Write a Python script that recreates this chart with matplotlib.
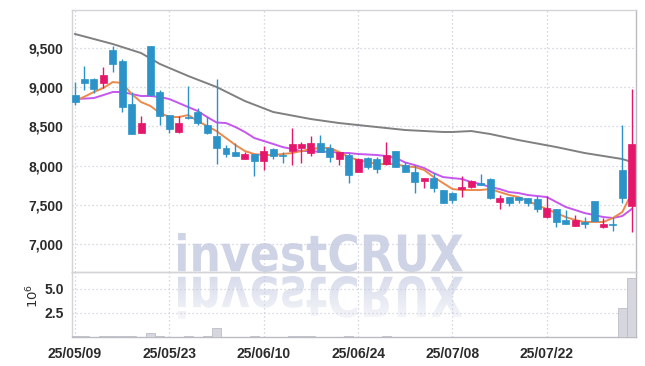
import numpy as np
import matplotlib
matplotlib.use("Agg")
import matplotlib.pyplot as plt
from matplotlib.textpath import TextPath
from matplotlib.font_manager import FontProperties
from matplotlib.patches import PathPatch
from matplotlib.transforms import Affine2D

# ---------------- data ----------------
opens = [8900, 9100, 9105, 9054, 9474, 9334, 8786, 8416, 9525, 8939,
         8645, 8429, 8620, 8684, 8518, 8378, 8225, 8174, 8084, 8148,
         8058, 8212, 8130, 8186, 8225, 8161, 8288, 8225, 8084, 8135,
         7918, 8097, 8084, 8020, 8186, 8007, 7918, 7803, 7841, 7689,
         7650, 7701, 7727, 7778, 7829, 7536, 7599, 7599, 7587, 7574,
         7344, 7446, 7306, 7230, 7281, 7548, 7217, 7255, 7944, 7485]
highs = [9066, 9270, 9117, 9258, 9525, 9360, 8939, 8633, 9525, 8964,
         8645, 8633, 9015, 8735, 8620, 9105, 8263, 8288, 8174, 8148,
         8250, 8225, 8174, 8480, 8301, 8378, 8390, 8276, 8174, 8161,
         8097, 8110, 8110, 8301, 8186, 8046, 8007, 7841, 7905, 7689,
         7663, 7867, 7816, 7893, 7841, 7625, 7599, 7599, 7587, 7612,
         7612, 7446, 7434, 7370, 7344, 7548, 7332, 7344, 8518, 8977]
lows = [8773, 8965, 8926, 8990, 9194, 8684, 8403, 8416, 8890, 8518,
        8416, 8416, 8600, 8518, 8403, 8020, 8110, 8122, 8084, 7867,
        7944, 8084, 8033, 8007, 8033, 8122, 8174, 8046, 8007, 7778,
        7918, 7956, 7905, 8007, 7982, 7918, 7650, 7714, 7663, 7523,
        7523, 7599, 7714, 7752, 7574, 7446, 7485, 7523, 7485, 7408,
        7332, 7217, 7255, 7230, 7204, 7293, 7204, 7166, 7523, 7153]
closes = [8811, 9050, 8977, 9156, 9296, 8747, 8403, 8543, 8900, 8633,
          8467, 8543, 8605, 8543, 8416, 8225, 8148, 8122, 8148, 8058,
          8186, 8122, 8122, 8276, 8276, 8288, 8174, 8110, 8174, 7880,
          8084, 7982, 7956, 8135, 7982, 7918, 7790, 7841, 7714, 7523,
          7561, 7727, 7803, 7752, 7587, 7587, 7523, 7561, 7523, 7446,
          7459, 7281, 7255, 7306, 7255, 7293, 7255, 7242, 7587, 8276]
ma_short = [8824, 8880, 8939, 8990, 9066, 9054, 8913, 8811, 8760, 8671,
            8620, 8620, 8645, 8569, 8505, 8440, 8352, 8263, 8186, 8148,
            8135, 8135, 8148, 8161, 8186, 8212, 8225, 8225, 8174, 8110,
            8071, 8046, 8020, 8020, 8020, 7990, 7982, 7944, 7854, 7778,
            7701, 7689, 7689, 7689, 7701, 7663, 7625, 7599, 7548, 7497,
            7446, 7395, 7344, 7306, 7281, 7281, 7281, 7332, 7408, 7650]
ma_mid = [8849, 8855, 8862, 8900, 8939, 8939, 8913, 8888, 8888, 8875,
          8849, 8798, 8747, 8696, 8620, 8550, 8543, 8492, 8429, 8352,
          8314, 8276, 8237, 8212, 8186, 8186, 8174, 8180, 8161, 8161,
          8148, 8142, 8135, 8122, 8097, 8040, 8007, 7969, 7905, 7854,
          7841, 7829, 7790, 7765, 7727, 7701, 7663, 7650, 7625, 7612,
          7599, 7536, 7472, 7434, 7395, 7370, 7344, 7332, 7357, 7446]
ma_long_idx = [0, 4, 7, 9, 12, 15, 18, 21, 25, 28, 32, 35, 39, 40, 42, 44, 47, 51, 54, 58, 59]
ma_long = [9679, 9551, 9436, 9296, 9143, 9003, 8824, 8684, 8594, 8543, 8492,
           8454, 8429, 8429, 8441, 8403, 8326, 8237, 8161, 8084, 8046]
volume = [0.1, 0.1, 0.03, 0.1, 0.1, 0.1, 0.1, 0.03, 0.38, 0.1,
          0.03, 0.03, 0.1, 0.03, 0.1, 0.9, 0.03, 0.03, 0.03, 0.1,
          0.03, 0.03, 0.03, 0.1, 0.1, 0.1, 0.03, 0.03, 0.03, 0.1,
          0.03, 0.03, 0.03, 0.1, 0.03, 0.03, 0.03, 0.03, 0.03, 0.03,
          0.03, 0.03, 0.03, 0.03, 0.03, 0.03, 0.03, 0.03, 0.03, 0.03,
          0.03, 0.03, 0.03, 0.03, 0.03, 0.03, 0.03, 0.03, 3.05, 6.15]
date_tick_idx = [0, 10, 20, 30, 40, 50]
date_labels = ["25/05/09", "25/05/23", "25/06/10", "25/06/24", "25/07/08", "25/07/22"]
price_ticks = [7000, 7500, 8000, 8500, 9000, 9500]
vol_ticks = [2.5, 5.0]

# ---------------- style ----------------
W, H = 645, 366
UP = "#E5176B"
DOWN = "#2B93C8"
GRID = "#C9CCDD"
TXT = "#2B2B2B"
plt.rcParams["font.family"] = ["Liberation Sans", "DejaVu Sans"]
FS = 10

fig = plt.figure(figsize=(W / 100, H / 100), dpi=100)

# watermark layer
axw = fig.add_axes([0, 0, 1, 1], zorder=0)
axw.axis("off")
fp = FontProperties(family="DejaVu Sans", weight="bold")
tp = TextPath((0, 0), "investCRUX", size=100, prop=fp)
ext = tp.get_extents()
x0, x1, ytop, ybase = 178, 463, 233, 272
sx = (x1 - x0) / ext.width
sy = (ybase - ytop) / ext.height
tr_main = Affine2D().translate(-ext.x0, -ext.y0).scale(sx, -sy).translate(x0, ybase) + axw.transData
axw.add_patch(PathPatch(tp, transform=tr_main, facecolor="#CED3E6", edgecolor="none"))
rb = 276
tr_ref = Affine2D().translate(-ext.x0, -ext.y0).scale(sx, sy * 1.1).translate(x0, rb) + axw.transData
ref_patch = PathPatch(tp, transform=tr_ref, facecolor="none", edgecolor="none")
axw.add_patch(ref_patch)
ref_h = (ybase - ytop) * 1.1
grad = np.zeros((100, 2, 4))
c = matplotlib.colors.to_rgb("#CED3E6")
grad[..., 0], grad[..., 1], grad[..., 2] = c
grad[..., 3] = np.linspace(0.8, 0.2, 100)[:, None]
im = axw.imshow(grad, extent=[x0, x1, rb + ref_h, rb], origin="upper", aspect="auto")
im.set_clip_path(ref_patch)
axw.set_xlim(0, W)
axw.set_ylim(H, 0)

# main axes
ax = fig.add_axes([72 / W, 1 - 272 / H, (636 - 72) / W, (272 - 10) / H], zorder=1)
axv = fig.add_axes([72 / W, 1 - 337 / H, (636 - 72) / W, (337 - 272) / H], zorder=1, sharex=ax)
for a in (ax, axv):
    a.patch.set_alpha(0)

n = len(opens)
idx = np.arange(n)
for i in range(n):
    o, h, l, cl = opens[i], highs[i], lows[i], closes[i]
    col = UP if cl >= o else DOWN
    ax.vlines(i, l, h, color=col, lw=1.0, zorder=3)
    body = max(abs(cl - o), 12)
    ax.bar(i, body, bottom=min(o, cl), width=0.74, color=col, edgecolor=col, lw=0.5, zorder=4)

ax.plot(ma_long_idx, ma_long, color="#808080", lw=1.4, zorder=2)
ax.plot(idx, ma_mid, color="#C657EE", lw=1.4, zorder=2)
ax.plot(idx, ma_short, color="#EC8A4C", lw=1.4, zorder=2)

ax.set_xlim(-0.32, 59.45)
ax.set_ylim(6643, 9985)
ax.set_yticks(price_ticks)
ax.set_yticklabels([f"{v:,}" for v in price_ticks])
ax.set_xticks(date_tick_idx)
ax.tick_params(axis="x", labelbottom=False, length=0)
ax.tick_params(axis="y", length=0, pad=6, labelsize=FS, labelcolor=TXT)
for lab in ax.get_yticklabels():
    lab.set_fontweight("bold")
ax.grid(True, linestyle=(0, (1, 2.2)), color=GRID, lw=0.9)

axv.bar(idx, volume, width=0.95, color="#D6D6DE", edgecolor="#BDBDC8", lw=0.6, zorder=3)
axv.set_ylim(0, 6.73)
axv.set_yticks(vol_ticks)
axv.set_yticklabels(["2.5", "5.0"])
axv.set_xticks(date_tick_idx)
axv.set_xticklabels(date_labels)
axv.tick_params(axis="both", length=0, labelsize=FS, labelcolor=TXT)
axv.tick_params(axis="x", pad=7)
axv.tick_params(axis="y", pad=6)
for lab in axv.get_xticklabels() + axv.get_yticklabels():
    lab.set_fontweight("bold")
axv.grid(True, linestyle=(0, (1, 2.2)), color=GRID, lw=0.9)

for a in (ax, axv):
    for s in a.spines.values():
        s.set_color("#D4D4D8")
        s.set_linewidth(1.0)
axv.spines["bottom"].set_color("#BBBBC2")
ax.spines["right"].set_color("#BBBBC2")
axv.spines["right"].set_color("#BBBBC2")

fig.text(33 / W, 1 - 296 / H, r"$10^6$", rotation=90, ha="center", va="center", fontsize=9.5, color=TXT)

fig.savefig("out.png", dpi=100)
